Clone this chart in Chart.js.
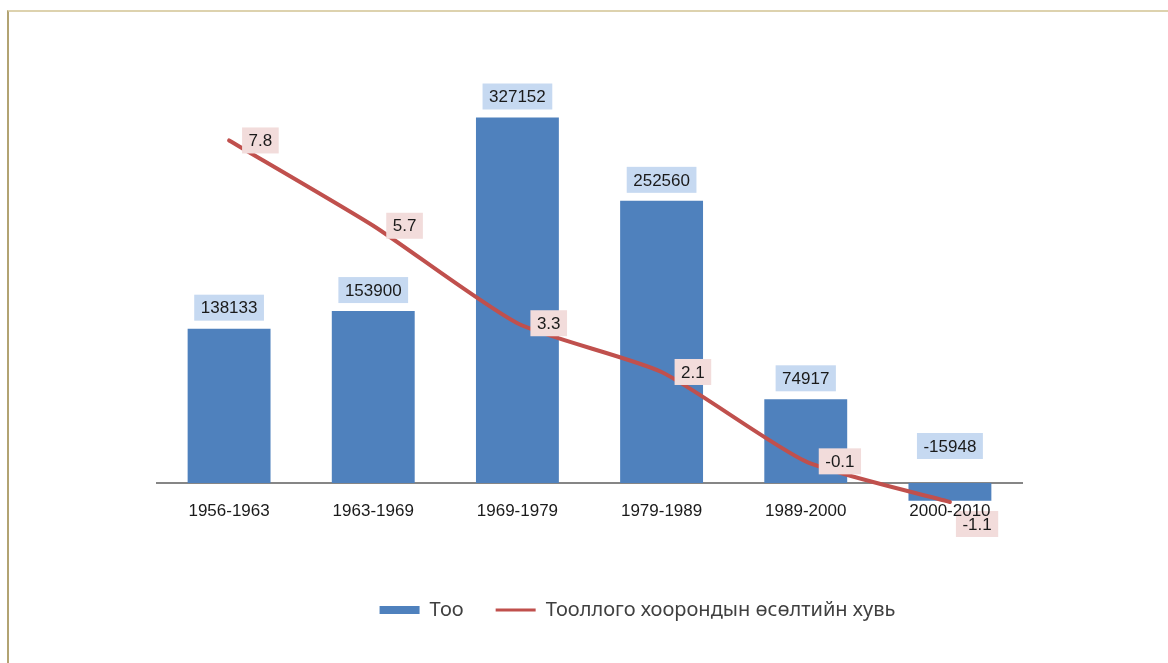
<!DOCTYPE html>
<html><head><meta charset="utf-8">
<script src="https://cdn.jsdelivr.net/npm/chart.js@4.4.0/dist/chart.umd.min.js"></script>
<style>
html,body{margin:0;padding:0;background:#fff;overflow:hidden;}
#wrap{position:relative;width:1168px;height:663px;}
#frame{position:absolute;left:7px;top:10px;right:0;bottom:0;border-top:2px solid #ddd2ae;border-left:2px solid #b2a372;}
canvas{position:absolute;left:0;top:0;}
</style></head><body>
<div id="wrap"><div id="frame"></div><canvas id="c" width="1168" height="663"></canvas></div>
<script>
const categories = ['1956-1963','1963-1969','1969-1979','1979-1989','1989-2000','2000-2010'];
const countValues = [138133, 153900, 327152, 252560, 74917, -15948];
const growthValues = [7.8, 5.7, 3.3, 2.1, -0.1, -1.1];
const seriesNames = ['Тоо', 'Тооллого хоорондын өсөлтийн хувь'];

const BAR_COLOR = '#4f81bd';
const LINE_COLOR = '#c0504d';
const LABEL_FONT = '17px "Liberation Sans", Arial, sans-serif';

const labelPlugin = {
  id: 'dataLabels',
  afterDatasetsDraw(chart) {
    const ctx = chart.ctx;
    ctx.save();
    ctx.font = LABEL_FONT;
    ctx.textBaseline = 'middle';
    ctx.textAlign = 'center';
    const h = 26;
    const barMeta = chart.getDatasetMeta(0);
    barMeta.data.forEach((bar, i) => {
      const v = countValues[i];
      const txt = String(v);
      const w = ctx.measureText(txt).width + 13;
      const bottom = v >= 0 ? bar.y - 8 : bar.base - 24;
      ctx.fillStyle = '#c6d9f1';
      ctx.fillRect(bar.x - w / 2, bottom - h, w, h);
      ctx.fillStyle = '#1a1a1a';
      ctx.fillText(txt, bar.x, bottom - h / 2 + 1);
    });
    const lineMeta = chart.getDatasetMeta(1);
    const last = lineMeta.data.length - 1;
    lineMeta.data.forEach((pt, i) => {
      const txt = String(growthValues[i]);
      const w = ctx.measureText(txt).width + 13;
      let left = pt.x + 13, cy = pt.y;
      if (i === last) { left = pt.x + 6; cy = pt.y + 22; }
      ctx.fillStyle = '#f2dcdb';
      ctx.fillRect(left, cy - h / 2, w, h);
      ctx.fillStyle = '#1a1a1a';
      ctx.fillText(txt, left + w / 2, cy + 1);
    });
    ctx.restore();
  }
};

new Chart(document.getElementById('c'), {
  data: {
    labels: categories,
    datasets: [
      {
        type: 'bar',
        label: seriesNames[0],
        data: countValues,
        backgroundColor: BAR_COLOR,
        yAxisID: 'y',
        order: 2,
        categoryPercentage: 1,
        barPercentage: 0.575,
        clip: false
      },
      {
        type: 'line',
        label: seriesNames[1],
        data: growthValues,
        borderColor: LINE_COLOR,
        backgroundColor: LINE_COLOR,
        borderWidth: 4,
        borderCapStyle: 'round',
        borderJoinStyle: 'round',
        tension: 0.2,
        pointRadius: 0,
        pointHoverRadius: 0,
        yAxisID: 'y1',
        order: 1,
        clip: false
      }
    ]
  },
  options: {
    responsive: false,
    animation: false,
    devicePixelRatio: 1,
    layout: { padding: { left: 107, right: 0, top: 40, bottom: 33 } },
    plugins: {
      tooltip: { enabled: false },
      legend: {
        position: 'bottom',
        labels: {
          usePointStyle: true,
          pointStyleWidth: 40,
          boxHeight: 8,
          padding: 32,
          color: '#404040',
          font: { family: '"Noto Sans", "Open Sans", sans-serif', size: 20 },
          generateLabels: () => [
            { text: seriesNames[0], pointStyle: 'rect', fillStyle: BAR_COLOR, strokeStyle: BAR_COLOR, lineWidth: 0, fontColor: '#404040', datasetIndex: 0 },
            { text: seriesNames[1], pointStyle: 'line', fillStyle: LINE_COLOR, strokeStyle: LINE_COLOR, lineWidth: 3, fontColor: '#404040', datasetIndex: 1 }
          ]
        }
      }
    },
    scales: {
      x: {
        offset: true,
        grid: { display: false, drawTicks: false },
        border: { display: true, color: '#868686', width: 2, z: -1 },
        ticks: {
          z: 1,
          padding: 18,
          color: '#1a1a1a',
          font: { family: '"Liberation Sans", Arial, sans-serif', size: 17 },
          maxRotation: 0
        },
        afterFit: s => { s.height = 85; }
      },
      y: {
        position: 'left',
        min: 0,
        max: 396527,
        grid: { display: false, drawTicks: false },
        border: { display: false },
        ticks: { display: false },
        afterFit: s => { s.width = 50; }
      },
      y1: {
        position: 'right',
        min: -0.633,
        max: 10.273,
        grid: { display: false, drawTicks: false },
        border: { display: false },
        ticks: { display: false },
        afterFit: s => { s.width = 146; }
      }
    }
  },
  plugins: [labelPlugin]
});
</script>
</body></html>
